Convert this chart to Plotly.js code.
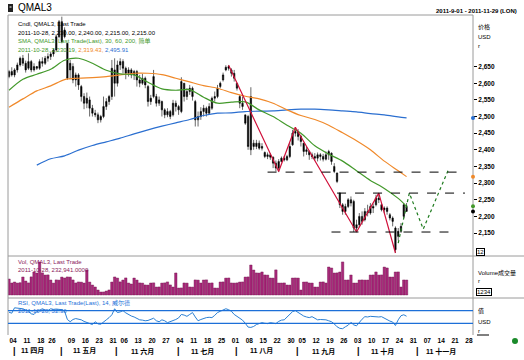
<!DOCTYPE html>
<html><head><meta charset="utf-8">
<script src="https://cdn.plot.ly/plotly-3.0.1.min.js"></script>
<style>html,body{margin:0;padding:0;background:#fff;}#chart{width:524px;height:360px;}</style>
</head><body><div id="chart"></div>
<script>
// ---------- DATA ----------
const HOLIDAYS = ['2011-04-22','2011-04-25','2011-04-29','2011-05-02','2011-05-30','2011-08-29'];
const CAL_START = '2011-04-04', CAL_END = '2011-11-29', LAST_DATE = '2011-10-28';

const OPEN = [2620,2635,2625,2640,2655,2675,2660,2645,2665,2640,2650,2645,2665,2660,2675,2680,2688,2700,2740,2785,
2740,2720,2640,2650,2610,2625,2590,2560,2540,2550,2525,2510,2505,2490,2500,2530,2545,2560,2640,2600,
2655,2665,2645,2630,2640,2625,2635,2610,2600,2615,2590,2545,2560,2560,2540,2545,2520,2505,2515,2505,
2540,2530,2515,2600,2560,2575,2585,2545,2490,2500,2515,2525,2510,2525,2555,2560,2590,2610,2640,2650,
2640,2630,2600,2560,2540,2505,2500,2560,2420,2410,2420,2405,2392,2380,2385,2378,2360,2345,2365,2375,
2370,2380,2415,2450,2455,2440,2420,2395,2395,2385,2380,2375,2385,2380,2372,2385,2390,2350,2330,2270,
2235,2215,2230,2250,2245,2165,2175,2200,2190,2215,2210,2230,2235,2255,2235,2220,2225,2205,2195,2165,
2140,2155,2200,2230];
const HIGH = [2640,2648,2645,2662,2680,2685,2668,2690,2670,2660,2652,2672,2678,2682,2690,2695,2705,2745,2790,2800,
2768,2720,2670,2660,2632,2630,2595,2570,2572,2560,2535,2520,2512,2505,2560,2555,2565,2670,2675,2668,
2675,2672,2650,2648,2645,2640,2640,2625,2628,2620,2595,2565,2640,2568,2560,2548,2525,2525,2520,2550,
2548,2535,2618,2600,2585,2595,2590,2550,2515,2528,2535,2530,2540,2560,2575,2595,2605,2632,2654,2655,
2645,2640,2600,2565,2560,2505,2505,2588,2430,2430,2428,2420,2395,2392,2390,2380,2368,2372,2380,2382,
2385,2420,2460,2468,2462,2445,2420,2410,2398,2392,2390,2392,2390,2388,2395,2400,2392,2360,2332,2272,
2240,2238,2255,2260,2250,2190,2210,2215,2225,2235,2240,2238,2265,2270,2240,2230,2230,2210,2200,2170,
2165,2180,2240,2240];
const LOW = [2615,2620,2618,2632,2650,2652,2632,2640,2633,2635,2640,2640,2650,2655,2665,2670,2680,2695,2735,2720,
2735,2610,2612,2600,2590,2580,2545,2522,2525,2500,2500,2498,2480,2482,2495,2520,2535,2550,2560,2590,
2640,2630,2612,2620,2615,2610,2590,2588,2595,2585,2530,2535,2555,2530,2532,2500,2495,2498,2492,2500,
2515,2505,2510,2545,2550,2565,2548,2470,2470,2490,2500,2500,2505,2520,2545,2555,2585,2605,2636,2638,
2620,2605,2578,2525,2520,2475,2400,2384,2400,2402,2400,2398,2375,2372,2370,2345,2335,2333,2362,2365,
2366,2375,2412,2440,2428,2410,2380,2385,2370,2372,2368,2365,2368,2365,2368,2370,2355,2330,2300,2225,
2205,2205,2225,2230,2153,2153,2168,2175,2185,2200,2205,2210,2230,2240,2215,2210,2205,2188,2170,2090,
2128,2150,2195,2215];
const CLOSE = [2635,2625,2640,2655,2675,2660,2640,2665,2640,2650,2645,2665,2660,2675,2680,2688,2700,2740,2785,2725,
2760,2615,2660,2610,2625,2595,2560,2540,2555,2525,2510,2505,2490,2500,2530,2545,2560,2645,2600,2655,
2665,2645,2630,2640,2625,2635,2610,2600,2615,2595,2545,2555,2620,2540,2550,2520,2505,2515,2500,2540,
2530,2520,2605,2560,2575,2585,2560,2490,2500,2515,2525,2510,2530,2555,2560,2585,2600,2625,2648,2645,
2630,2615,2585,2540,2530,2480,2410,2400,2410,2420,2405,2410,2380,2385,2378,2360,2345,2365,2375,2370,
2380,2410,2450,2455,2440,2425,2395,2400,2385,2380,2375,2385,2380,2372,2385,2395,2365,2335,2305,2235,
2215,2230,2250,2240,2165,2175,2200,2185,2215,2210,2230,2225,2255,2250,2220,2225,2215,2195,2185,2100,
2155,2170,2235,2215];
const VOLUME = [248200,186400,201700,185300,190800,279400,216900,187600,281200,356300,
340900,511800,343100,309500,311700,232600,184900,234100,230800,278300,
263900,280100,277600,233500,186900,202300,199800,185700,388200,200600,
154800,124300,77900,46800,47500,61900,78200,201100,279800,262700,
203400,231900,264800,185900,170300,263200,232100,187200,184600,155900,
154300,186100,188400,123700,125100,185200,187900,202800,156200,123900,
341600,108200,109700,186700,184800,124600,122900,233800,231200,186300,
232900,234700,185600,187400,108900,107600,201900,203100,262300,264100,
186800,185100,187700,200900,202600,278700,280600,465200,387400,342300,
340200,357100,310800,309100,263600,262100,389300,185800,186200,187100,
155400,154100,263700,264400,262900,77400,201400,202200,186600,185400,
124100,123500,201600,202900,186500,434100,418900,341200,342800,356700,
512400,232300,233200,310400,185900,186400,232700,233900,231600,232400,
309800,310900,357400,309300,311200,433600,419400,279100,278900,356900,
357800,124500,233300,232941];
const RSI = [65,62,79,78,77,76,72,68,60,58,67,72,76,72,70,76,74,75,74,73,
68,42,35,42,45,43,41,36,32,30,26,35,28,27,33,41,48,57,76,64,
66,70,63,57,53,50,45,41,40,38,39,43,46,38,35,41,38,32,35,38,
42,47,58,56,52,58,64,50,38,42,46,48,49,48,55,64,68,73,76,73,
68,58,52,48,40,30,18,17,20,26,30,32,30,29,32,30,29,36,40,41,
50,60,67,70,64,58,53,50,48,51,45,41,42,42,41,38,35,28,19,14,
13,19,24,33,25,22,34,43,51,50,52,51,49,50,51,46,41,37,34,23,
41,54,57,52.4];
const RSI_LEVELS = [70, 30];

const SMA_DATES = ['2011-04-04','2011-04-11','2011-04-18','2011-04-27','2011-05-06','2011-05-13','2011-05-20','2011-05-27',
'2011-06-06','2011-06-13','2011-06-20','2011-06-27','2011-07-04','2011-07-11','2011-07-18','2011-07-25','2011-08-01',
'2011-08-08','2011-08-15','2011-08-22','2011-08-30','2011-09-06','2011-09-13','2011-09-20','2011-09-27','2011-10-04',
'2011-10-11','2011-10-18','2011-10-25','2011-10-28'];
const SMA30 = [2579,2612,2627,2642,2669,2675,2660,2639,2628,2625,2603,2583,2579,2581,2558,2540,2543,2544,2520,2500,2474,2450,2412,2387,2366,2337,2308,2284,2254,2230.19];
const SMA60 = [2528,2553,2577,2592,2611,2615,2617,2620,2625,2630,2630,2626,2615,2604,2593,2585,2572,2561,2553,2540,2520,2503,2491,2474,2451,2427,2400,2366,2337,2319.43];
const SMA200 = [null,null,2354,2373,2382,2399,2413,2424,2435,2448,2460,2471,2481,2491,2503,2510,2511,2515,2516,2517,2520,2522,2522,2520,2517,2514,2509,2505,2499,2495.91];

const WAVE_DATES = ['2011-07-29','2011-08-24','2011-09-02','2011-10-04','2011-10-14','2011-10-24'];
const WAVE_VALUES = [2654,2335,2468,2153,2270,2090];
const PROJ_DATES = ['2011-10-25','2011-10-31','2011-11-07','2011-11-18'];
const PROJ_VALUES = [2120,2270,2162,2339];
const LEVEL_VALUES = [2333,2270,2153];
const LEVEL_START = ['2011-08-18','2011-09-23','2011-09-21'];
const LEVEL_END = ['2011-11-28','2011-11-28','2011-11-23'];

const PRICE_TICKS = [2150,2200,2250,2300,2350,2400,2450,2500,2550,2600,2650];
const WEEK_TICKS = ['2011-04-04','2011-04-11','2011-04-18','2011-04-26','2011-05-09','2011-05-16','2011-05-23','2011-05-31',
'2011-06-06','2011-06-13','2011-06-20','2011-06-27','2011-07-04','2011-07-11','2011-07-18','2011-07-25','2011-08-01',
'2011-08-08','2011-08-15','2011-08-22','2011-08-30','2011-09-05','2011-09-12','2011-09-19','2011-09-26','2011-10-03',
'2011-10-10','2011-10-17','2011-10-24','2011-10-31','2011-11-07','2011-11-14','2011-11-21','2011-11-28'];
const MONTH_STARTS = ['2011-04-04','2011-05-03','2011-06-01','2011-07-01','2011-08-01','2011-09-01','2011-10-03','2011-11-01'];
const MONTH_LABELS = ['11 四月','11 五月','11 六月','11 七月','11 八月','11 九月','11 十月','11 十一月'];

// ---------- CALENDAR (trading days) ----------
function buildCalendar(s, e) {
  const out = []; let d = new Date(s + 'T00:00:00Z'); const end = new Date(e + 'T00:00:00Z');
  while (d <= end) {
    const wd = d.getUTCDay(); const iso = d.toISOString().slice(0, 10);
    if (wd !== 0 && wd !== 6 && HOLIDAYS.indexOf(iso) < 0) out.push(iso);
    d = new Date(d.getTime() + 86400000);
  }
  return out;
}
const CAL = buildCalendar(CAL_START, CAL_END);
const DATES = CAL.slice(0, CAL.indexOf(LAST_DATE) + 1);

// ---------- GEOMETRY ----------
const W = 524, H = 360, ML = 8, MR = 51, MT = 15, MB = 25;
const PW = W - ML - MR, PH = H - MT - MB;
const px = x => (x - ML) / PW, py = y => (MT + PH - y) / PH;
const FONT = 'Liberation Sans, Arial, Noto Sans CJK SC, sans-serif';
const GRAY = '#9a9a9a';

const traces = [
  {type:'bar', x:DATES, y:VOLUME, xaxis:'x', yaxis:'y2', marker:{color:'#a8287a', line:{color:'#6e0f4a', width:0.4}}, hoverinfo:'skip'},
  {type:'scatter', mode:'lines', x:DATES, y:RSI, xaxis:'x', yaxis:'y3', line:{color:'#2a7fd4', width:1}, hoverinfo:'skip'},
  {type:'scatter', mode:'lines', x:SMA_DATES, y:SMA200, line:{color:'#2b6fd0', width:1.2, shape:'spline', smoothing:0.8}, connectgaps:false, hoverinfo:'skip'},
  {type:'scatter', mode:'lines', x:SMA_DATES, y:SMA60, line:{color:'#f0892a', width:1.2, shape:'spline', smoothing:0.8}, hoverinfo:'skip'},
  {type:'scatter', mode:'lines', x:SMA_DATES, y:SMA30, line:{color:'#43992b', width:1.2, shape:'spline', smoothing:0.8}, hoverinfo:'skip'},
  {type:'candlestick', x:DATES, open:OPEN, high:HIGH, low:LOW, close:CLOSE, whiskerwidth:0,
   increasing:{line:{color:'#000', width:0.6}, fillcolor:'#000'}, decreasing:{line:{color:'#000', width:0.6}, fillcolor:'#000'}, hoverinfo:'skip'},
  {type:'scatter', mode:'lines', x:WAVE_DATES, y:WAVE_VALUES, line:{color:'#d0103a', width:1.2}, hoverinfo:'skip'},
  {type:'scatter', mode:'lines', x:PROJ_DATES, y:PROJ_VALUES, line:{color:'#1e7b1e', width:1.2, dash:'dot'}, hoverinfo:'skip'}
];
LEVEL_VALUES.forEach((v, k) => traces.push({type:'scatter', mode:'lines', x:[LEVEL_START[k], LEVEL_END[k]], y:[v, v],
  line:{color:'#000', width:1, dash:'dash'}, hoverinfo:'skip'}));

const shapes = [
  {type:'line', xref:'paper', yref:'paper', x0:0, x1:1, y0:1, y1:1, line:{color:GRAY, width:1}},
  {type:'line', xref:'paper', yref:'paper', x0:0, x1:0, y0:0, y1:1, line:{color:GRAY, width:1}},
  {type:'line', xref:'paper', yref:'paper', x0:1, x1:1, y0:0, y1:1, line:{color:GRAY, width:1}},
  {type:'line', xref:'paper', yref:'paper', x0:0, x1:px(524), y0:py(256), y1:py(256), line:{color:GRAY, width:1}},
  {type:'line', xref:'paper', yref:'paper', x0:0, x1:px(524), y0:py(298), y1:py(298), line:{color:GRAY, width:1}},
  {type:'line', xref:'paper', yref:'paper', x0:px(477), x1:px(489), y0:py(335), y1:py(335), line:{color:'#000', width:1}},
  {type:'circle', xref:'paper', yref:'paper', x0:px(512), x1:px(518), y0:py(344), y1:py(338), fillcolor:'#1a8a2a', line:{width:0}},
  {type:'rect', xref:'paper', yref:'paper', x0:px(8), x1:px(13), y0:py(12), y1:py(4), fillcolor:'#222', line:{width:0}},
  {type:'line', xref:'paper', yref:'paper', x0:px(9.5), x1:px(11.5), y0:py(7), y1:py(7), line:{color:'#fff', width:1}}
];
RSI_LEVELS.forEach(v => shapes.push({type:'line', xref:'paper', yref:'y3', x0:0, x1:1, y0:v, y1:v, line:{color:'#1c6fd8', width:1.3}}));
[[SMA200[SMA200.length-1], '#2b6fd0'], [SMA60[SMA60.length-1], '#f0892a'], [SMA30[SMA30.length-1], '#43992b'], [CLOSE[CLOSE.length-1], '#000']]
  .forEach(([v, c]) => shapes.push({type:'circle', xref:'paper', yref:'y', xsizemode:'pixel', ysizemode:'pixel', xanchor:1, yanchor:v,
    x0:-2, x1:2, y0:-2, y1:2, fillcolor:c, line:{width:0}}));

function ann(x, y, text, o) {
  return Object.assign({xref:'paper', yref:'paper', x:px(x), y:py(y), text:text, showarrow:false, xanchor:'left', yanchor:'middle',
    font:{family:FONT, size:6, color:'#000'}}, o || {});
}
const G = '#43992b', OR = '#f0892a', BL = '#2b6fd0', VC = '#8b1a5b', RC = '#1c6fd8';
const annotations = [
  ann(16, 8, 'QMAL3', {font:{family:FONT, size:10, color:'#000'}}),
  ann(519, 11, '2011-9-01 - 2011-11-29 (LON)', {xanchor:'right', font:{family:FONT, size:6, color:'#000', weight:'bold'}}),
  ann(16, 24, 'Cndl, QMAL3, Last Trade'),
  ann(16, 33, '2011-10-28, 2,230.00, 2,240.00, 2,215.00, 2,215.00'),
  ann(16, 41, 'SMA, QMAL3, Last Trade(Last), 30, 60, 200, 简单', {font:{family:FONT, size:6, color:G}}),
  ann(16, 50, '<span style="color:' + G + '">2011-10-28, 2,230.19, </span><span style="color:' + OR + '">2,319.43, </span><span style="color:' + BL + '">2,495.91</span>'),
  ann(476, 27, '价格'), ann(476, 37, 'USD'), ann(476, 46, 'r'),
  ann(476, 252, '12', {bordercolor:'#000', borderwidth:1, borderpad:0}),
  ann(16, 262, 'Vol, QMAL3, Last Trade', {font:{family:FONT, size:6, color:VC}}),
  ann(16, 270, '2011-10-28, 232,941.0000', {font:{family:FONT, size:6, color:VC}}),
  ann(476, 273, 'Volume成交量'), ann(476, 281, 'r'),
  ann(476, 292, '1234', {bordercolor:'#000', borderwidth:1, borderpad:0}),
  ann(16, 303, 'RSI, QMAL3, Last Trade(Last), 14, 威尔德', {font:{family:FONT, size:6, color:RC}}),
  ann(16, 311, '2011-10-28, 52.36', {font:{family:FONT, size:6, color:RC}}),
  ann(476, 311, '值'), ann(476, 322, 'USD'), ann(476, 331, 'r')
];
MONTH_STARTS.forEach((d, k) => {
  const i0 = CAL.indexOf(d);
  const i1 = k + 1 < MONTH_STARTS.length ? CAL.indexOf(MONTH_STARTS[k + 1]) : CAL.length;
  annotations.push({xref:'x', yref:'paper', x:i0, y:py(351), text:'|', showarrow:false, xshift:5, xanchor:'center', yanchor:'middle',
    font:{family:FONT, size:9, color:'#000', weight:'bold'}});
  annotations.push({xref:'x', yref:'paper', x:(i0 + i1) / 2, y:py(351), text:MONTH_LABELS[k], showarrow:false, xanchor:'center', yanchor:'middle',
    font:{family:FONT, size:7, color:'#000', weight:'bold'}});
});

const layout = {
  width:W, height:H, margin:{l:ML, r:MR, t:MT, b:MB}, paper_bgcolor:'#fff', plot_bgcolor:'#fff',
  showlegend:false, hovermode:false, bargap:0.12, font:{family:FONT, size:6, color:'#000'},
  xaxis:{type:'category', categoryorder:'array', categoryarray:CAL, range:[-0.36, 166.9], anchor:'y3',
    tickvals:WEEK_TICKS, ticktext:WEEK_TICKS.map(d => d.slice(8)), ticks:'', showgrid:false, zeroline:false, showline:false,
    tickfont:{family:FONT, size:6.5, color:'#000', weight:'bold'}, ticklabelshift:4, rangeslider:{visible:false}, automargin:false},
  yaxis:{domain:[py(256), 1], range:[2081, 2805], side:'right', anchor:'x', tickvals:PRICE_TICKS, tickformat:',',
    ticks:'outside', ticklen:3, tickcolor:'#000', tickfont:{family:FONT, size:6.5, color:'#000', weight:'bold'},
    showgrid:false, zeroline:false, showline:false, automargin:false},
  yaxis2:{domain:[py(298), py(256)], range:[-46500, 604500], anchor:'x', showticklabels:false, showgrid:false, zeroline:false},
  yaxis3:{domain:[0, py(298)], range:[-7, 110], anchor:'x', showticklabels:false, showgrid:false, zeroline:false},
  shapes:shapes, annotations:annotations
};
Plotly.newPlot('chart', traces, layout, {staticPlot:true, displayModeBar:false});
</script></body></html>
